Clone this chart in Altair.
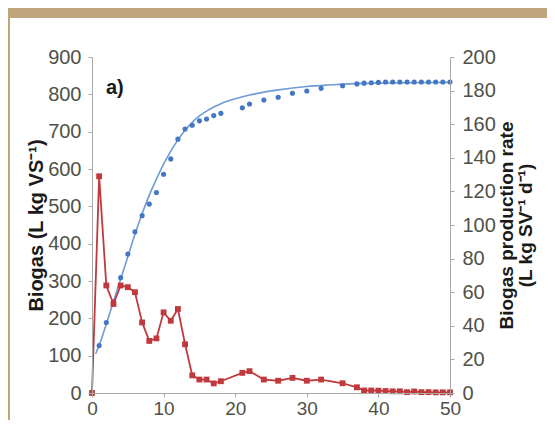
import altair as alt
import pandas as pd

# cumulative biogas (left axis)
cum_days = [1, 2, 3, 4, 5, 6, 7, 8, 9, 10, 11, 12, 13, 14, 15, 16, 17, 18, 21, 22, 24, 26,
            28, 30, 32, 35, 37, 38, 39, 40, 41, 42, 43, 44, 45, 46, 47, 48, 49, 50]
cum_vals = [127, 189, 245, 309, 372, 432, 475, 506, 537, 586, 627, 680, 707, 717, 729, 734,
            743, 749, 764, 774, 785, 792, 803, 809, 816, 823, 828, 830, 831, 832, 833, 833,
            833, 833, 833, 833, 833, 833, 833, 833]

# fitted curve (left axis)
fit_days = [0.5, 1, 2, 3, 4, 5, 6, 7, 8, 9, 10, 11, 12, 13, 14, 15, 16, 17, 18, 20, 22, 24,
            26, 28, 30, 33, 36, 40, 45, 50]
fit_vals = [105, 128, 185, 245, 305, 365, 425, 480, 530, 573, 613, 648, 678, 704, 725, 742,
            755, 766, 775, 788, 798, 806, 812, 817, 821, 825, 828, 830, 831, 832]

# production rate (right axis)
rate_days = [0, 1, 2, 3, 4, 5, 6, 7, 8, 9, 10, 11, 12, 13, 14, 15, 16, 17, 18, 21, 22, 24, 26,
             28, 30, 32, 35, 37, 38, 39, 40, 41, 42, 43, 44, 45, 46, 47, 48, 49, 50]
rate_vals = [0, 129, 64, 53, 64, 63, 60, 42, 31, 32.5, 48, 43, 50, 29, 10.5, 8, 8, 5.7, 7, 12,
             13, 8, 7.3, 9, 7.3, 8, 5.8, 3.4, 1.5, 1.5, 1.4, 1.2, 1.0, 1.0, 0.5, 0.9, 0.5, 0.5,
             0.4, 0.4, 0.4]

left_title = "Biogas (L kg VS⁻¹)"
right_title = ["Biogas production rate", "(L kg SV⁻¹ d⁻¹)"]
panel_label = "a)"

cum_df = pd.DataFrame({"day": cum_days, "biogas": cum_vals})
fit_df = pd.DataFrame({"day": fit_days, "biogas": fit_vals})
rate_df = pd.DataFrame({"day": rate_days, "rate": rate_vals})

FONT = "Liberation Sans Narrow, Liberation Sans, Arial"
TFONT = "Liberation Sans, Arial"
LABEL_COLOR = "#4f5148"
BLUE = "#4277C4"
BLUE_LINE = "#6F9BD6"
RED = "#C0393D"
AXIS_GRAY = "#a8a8a8"

xscale = alt.Scale(domain=[0, 50], nice=False)
xaxis = alt.Axis(values=[0, 10, 20, 30, 40, 50], grid=False, title=None, labelFontSize=19,
                 labelFont=FONT, labelColor=LABEL_COLOR, domainColor=AXIS_GRAY, tickColor=AXIS_GRAY,
                 tickSize=4, labelPadding=2, labelFlush=False, zindex=1)

left_scale = alt.Scale(domain=[0, 900], nice=False)
left_axis = alt.Axis(orient="left", values=list(range(0, 901, 100)), grid=False, title=left_title,
                     labelFontSize=20, labelFont=FONT, labelColor=LABEL_COLOR, domainColor=AXIS_GRAY,
                     tickColor=AXIS_GRAY, tickSize=4, labelPadding=7, labelFlush=False,
                     titleFontSize=20, titleFont=TFONT, titleFontWeight="bold",
                     titleColor="#1a1a1a", titlePadding=1, zindex=1)

right_scale = alt.Scale(domain=[0, 200], nice=False)
right_axis = alt.Axis(orient="right", values=list(range(0, 201, 20)), grid=False, title=right_title,
                      labelFontSize=20, labelFont=FONT, labelColor=LABEL_COLOR, domainColor=AXIS_GRAY,
                      tickColor=AXIS_GRAY, tickSize=4, labelPadding=8, labelFlush=False,
                      titleFontSize=19, titleFont=TFONT, titleFontWeight="bold",
                      titleColor="#1a1a1a", titleAngle=270, titlePadding=2, titleLineHeight=19,
                      zindex=1)

panel = alt.Chart(alt.Data(values=[{}])).mark_rect(color="white").encode(
    x=alt.value(-82), x2=alt.value(480), y=alt.value(-39), y2=alt.value(420)
)

fit_line = alt.Chart(fit_df).mark_line(color=BLUE_LINE, strokeWidth=1.6, interpolate="monotone").encode(
    x=alt.X("day:Q", scale=xscale, axis=xaxis),
    y=alt.Y("biogas:Q", scale=left_scale, axis=left_axis),
)
cum_pts = alt.Chart(cum_df).mark_circle(color=BLUE, size=26, opacity=1).encode(
    x=alt.X("day:Q", scale=xscale, axis=xaxis),
    y=alt.Y("biogas:Q", scale=left_scale, axis=left_axis),
)
left = alt.layer(fit_line, cum_pts)

rate_line = alt.Chart(rate_df).mark_line(
    color=RED, strokeWidth=1.8,
    point=alt.OverlayMarkDef(shape="square", size=34, color=RED, filled=True, opacity=1),
).encode(
    x=alt.X("day:Q", scale=xscale, axis=xaxis),
    y=alt.Y("rate:Q", scale=right_scale, axis=right_axis),
)

label = alt.Chart(alt.Data(values=[{"t": panel_label}])).mark_text(
    font=FONT, fontSize=20, fontWeight="bold", color="#1a1a1a", align="left", baseline="middle"
).encode(x=alt.value(14), y=alt.value(31), text="t:N")

chart = alt.layer(panel, left, rate_line, label).resolve_scale(y="independent").properties(
    width=358, height=336,
    autosize=alt.AutoSizeParams(type="none"),
    padding={"left": 84, "top": 49, "right": 97, "bottom": 27},
    background="#bfa57c",
).configure_view(stroke=AXIS_GRAY, strokeWidth=1)

chart.save("out.html", embed_options={"renderer": "svg", "actions": False})
